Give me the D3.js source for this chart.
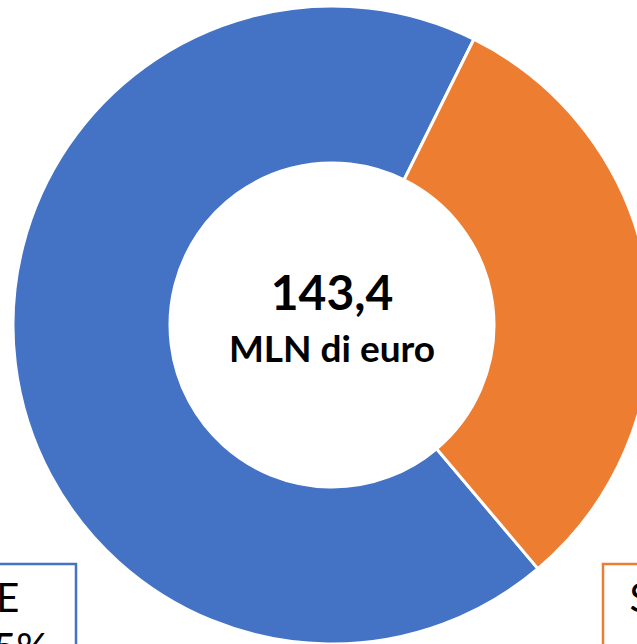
<!DOCTYPE html>
<html>
<head>
<meta charset="utf-8">
<script src="https://cdn.jsdelivr.net/npm/d3@7"></script>
<style>
  body { margin: 0; background: #fff; }
  svg { display: block; }
  text { font-family: Lato, "Open Sans", sans-serif; fill: #000; }
</style>
</head>
<body>
<div id="chart"></div>
<script>
// data
var categories = ["UE", "STATO"];
var shares = [68.5, 31.5];          // percent
var colors = ["#4472C4", "#ED7D31"];
var totalLabel = "143,4";
var unitLabel = "MLN di euro";

var width = 637, height = 644;
var cx = 332, cy = 325;
var outerR = 319, innerR = 162;

var svg = d3.select("#chart").append("svg")
    .attr("width", width)
    .attr("height", height);

// first slice (blue) starts where orange ends, ~139.8 deg clockwise from top
var startA = 139.8 * Math.PI / 180;
var pie = d3.pie().sort(null)
    .startAngle(startA)
    .endAngle(startA + 2 * Math.PI);

var arc = d3.arc().innerRadius(innerR).outerRadius(outerR);

var g = svg.append("g").attr("transform", "translate(" + cx + "," + cy + ")");

g.selectAll("path")
    .data(pie(shares))
    .enter()
    .append("path")
    .attr("d", arc)
    .style("fill", function (d, i) { return colors[i]; })
    .style("stroke", "#fff")
    .style("stroke-width", 3);

// centre text
g.append("text")
    .attr("text-anchor", "middle")
    .attr("y", -15)
    .style("font-size", "48px")
    .style("font-weight", "bold")
    .text(totalLabel);

g.append("text")
    .attr("text-anchor", "middle")
    .attr("y", 37)
    .style("font-size", "37px")
    .style("font-weight", "bold")
    .text(unitLabel);

// data labels in boxes (mostly cut off by the frame)
var fmt = function (v) { return String(v.toFixed(1)).replace(".", ",") + "%"; };
var boxes = [
    { x: -91, y: 564, cx: -7 },
    { x: 603, y: 564, cx: 690 }
];
var lab = svg.selectAll(".lab")
    .data(categories)
    .enter()
    .append("g")
    .attr("class", "lab");

lab.append("rect")
    .attr("x", function (d, i) { return boxes[i].x; })
    .attr("y", function (d, i) { return boxes[i].y; })
    .attr("width", 167)
    .attr("height", 120)
    .style("fill", "#fff")
    .style("stroke", function (d, i) { return colors[i]; })
    .style("stroke-width", 2.5);

var t = lab.append("text")
    .attr("text-anchor", "middle")
    .style("font-size", "40px");
t.append("tspan")
    .attr("x", function (d, i) { return boxes[i].cx; })
    .attr("y", 612)
    .text(function (d) { return d; });
t.append("tspan")
    .attr("x", function (d, i) { return boxes[i].cx + (i === 1 ? 6 : 0); })
    .attr("y", 662)
    .text(function (d, i) { return fmt(shares[i]); });
</script>
</body>
</html>
